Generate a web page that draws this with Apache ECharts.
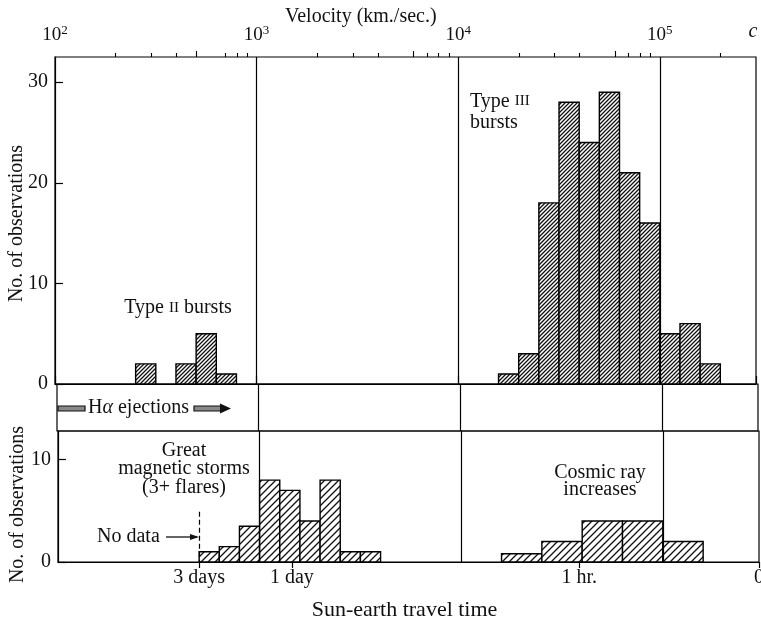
<!DOCTYPE html>
<html><head><meta charset="utf-8">
<script src="https://cdn.jsdelivr.net/npm/echarts@6/dist/echarts.min.js"></script>
<style>html,body{margin:0;padding:0;background:#fff}#c{width:761px;height:626px}</style>
</head><body><div id="c"></div>
<script>
// ---------- data (x values are log10 of velocity in km/s) ----------
const topMajorTicks = [2, 3, 4, 5, 5.477];
const topMajorLabels = ['10{e|2}', '10{e|3}', '10{e|4}', '10{e|5}', '{c|c}'];
const topMinorTicks = [2.301, 2.477, 2.602, 2.845, 2.903, 2.954,
                       3.301, 3.477, 3.602, 3.845, 3.903, 3.954,
                       4.301, 4.477, 4.602, 4.845, 4.903, 4.954, 5.301];
const topMidTicks = [2.699, 3.778, 4.778];
const decadeLines = [3, 4, 5];

const type2BinStart = [2.4, 2.6, 2.7, 2.8];
const type2Counts   = [2, 2, 5, 1];
const type3BinStart = [4.2, 4.3, 4.4, 4.5, 4.6, 4.7, 4.8, 4.9, 5.0, 5.1, 5.2];
const type3Counts   = [1, 3, 18, 28, 24, 29, 21, 16, 5, 6, 2];
const stormBinStart = [2.7, 2.8, 2.9, 3.0, 3.1, 3.2, 3.3, 3.4, 3.5];
const stormCounts   = [1, 1.5, 3.5, 8, 7, 4, 8, 1, 1];
const cosmicBinStart = [4.2, 4.4, 4.6, 4.8, 5.0];
const cosmicCounts   = [0.8, 2, 4, 4, 2];
const narrowBin = 0.1, wideBin = 0.2;

const upperYTicks = [0, 10, 20, 30];
const lowerYTicks = [0, 10];
const travelTickValues = [2.7, 3.16, 4.585, 5.477];
const travelTickLabels = ['3 days', '1 day', '1 hr.', '0'];
const noDataAt = 2.7, noDataTop = 4.9;

// ---------- helpers ----------
const FONT = 'Liberation Serif';
const INK = '#111';
function hatch(size, lw) {
  const c = document.createElement('canvas');
  c.width = c.height = size;
  const g = c.getContext('2d');
  g.fillStyle = '#fff'; g.fillRect(0, 0, size, size);
  g.strokeStyle = '#111'; g.lineWidth = lw;
  g.beginPath();
  g.moveTo(0, size); g.lineTo(size, 0);
  g.moveTo(-2, 2); g.lineTo(2, -2);
  g.moveTo(size - 2, size + 2); g.lineTo(size + 2, size - 2);
  g.stroke();
  return c;
}
const fineHatch = { image: hatch(4, 1.3), repeat: 'repeat' };
const wideHatch = { image: hatch(7, 1.3), repeat: 'repeat' };

function binData(starts, counts, w) { return starts.map((s, i) => [s, s + w, counts[i]]); }
function histSeries(name, xi, yi, data, pattern, extra) {
  return Object.assign({
    name, type: 'custom', xAxisIndex: xi, yAxisIndex: yi, data,
    encode: { x: [0, 1], y: 2 },
    renderItem: (params, api) => {
      const p0 = api.coord([api.value(0), 0]);
      const p1 = api.coord([api.value(1), api.value(2)]);
      return { type: 'rect',
        shape: { x: p0[0], y: p1[1], width: p1[0] - p0[0], height: p0[1] - p1[1] },
        style: { fill: pattern, stroke: '#000', lineWidth: 1.4 } };
    }
  }, extra || {});
}
const vLines = { silent: true, symbol: 'none', label: { show: false },
  lineStyle: { color: '#000', width: 1.2, type: 'solid' },
  data: decadeLines.map(v => ({ xAxis: v })) };

const labelStyle = { fontFamily: FONT, fontSize: 20, color: INK };
const gridBase = { show: true, borderColor: '#000', borderWidth: 1.2, backgroundColor: 'transparent', outerBoundsMode: 'none', containLabel: false };

const chart = echarts.init(document.getElementById('c'));
chart.setOption({
  backgroundColor: '#fff',
  animation: false,
  title: { text: 'Velocity (km./sec.)', left: 280, top: 2,
    textStyle: { fontFamily: FONT, fontSize: 20, fontWeight: 'normal', color: INK } },
  grid: [
    Object.assign({ left: 55, right: 5, top: 57, height: 327 }, gridBase),
    Object.assign({ left: 57, right: 3, top: 384, height: 47 }, gridBase),
    Object.assign({ left: 58, right: 2, top: 431, height: 131 }, gridBase)
  ],
  xAxis: [
    { gridIndex: 0, type: 'value', position: 'top', min: 2, max: 5.477,
      axisLine: { lineStyle: { color: '#000', width: 1.2 } },
      axisTick: { show: true, inside: false, length: 8, customValues: topMajorTicks, lineStyle: { color: '#000', width: 1.2 } },
      axisLabel: { show: true, margin: 11, customValues: topMajorTicks,
        formatter: v => topMajorLabels[topMajorTicks.findIndex(t => Math.abs(t - v) < 1e-6)] || '',
        fontFamily: FONT, fontSize: 19, color: INK,
        rich: { e: { fontFamily: FONT, fontSize: 13, color: INK, verticalAlign: 'top', padding: [0, 0, 9, 0] },
                c: { fontFamily: FONT, fontSize: 20, fontStyle: 'italic', color: INK, padding: [0, 6, 4, 0] } } },
      splitLine: { show: false } },
    { gridIndex: 0, type: 'value', position: 'top', min: 2, max: 5.477,
      axisLine: { show: false }, axisLabel: { show: false }, splitLine: { show: false },
      axisTick: { show: true, length: 4, customValues: topMinorTicks, lineStyle: { color: '#000', width: 1.1 } } },
    { gridIndex: 0, type: 'value', position: 'top', min: 2, max: 5.477,
      axisLine: { show: false }, axisLabel: { show: false }, splitLine: { show: false },
      axisTick: { show: true, length: 6, customValues: topMidTicks, lineStyle: { color: '#000', width: 1.1 } } },
    { gridIndex: 1, type: 'value', min: 2, max: 5.477, show: false },
    { gridIndex: 2, type: 'value', position: 'bottom', min: 2, max: 5.477,
      name: 'Sun-earth travel time', nameLocation: 'middle', nameGap: 37, nameMoveOverlap: false,
      nameTextStyle: { fontFamily: FONT, fontSize: 22, color: INK, padding: [0, 8, 0, 0] },
      axisLine: { lineStyle: { color: '#000', width: 1.2 } },
      axisTick: { show: true, inside: false, length: 6, customValues: travelTickValues, lineStyle: { color: '#000', width: 1.2 } },
      axisLabel: { show: true, margin: 6, customValues: travelTickValues,
        formatter: v => travelTickLabels[travelTickValues.findIndex(t => Math.abs(t - v) < 1e-6)] || '',
        ...labelStyle },
      splitLine: { show: false } }
  ],
  yAxis: [
    { gridIndex: 0, type: 'value', min: 0, max: 32.5,
      name: 'No. of observations', nameLocation: 'middle', nameGap: 28, nameMoveOverlap: false,
      nameTextStyle: { fontFamily: FONT, fontSize: 20, color: INK, padding: [0, 6, 0, 0] },
      axisLine: { show: true, lineStyle: { color: '#000', width: 1.2 } },
      axisTick: { show: true, inside: true, length: 8, customValues: upperYTicks, lineStyle: { color: '#000', width: 1.2 } },
      axisLabel: { show: true, margin: 7, customValues: upperYTicks, ...labelStyle },
      splitLine: { show: false } },
    { gridIndex: 1, type: 'value', min: 0, max: 1, show: false },
    { gridIndex: 2, type: 'value', min: 0, max: 12.8,
      name: 'No. of observations', nameLocation: 'middle', nameGap: 30, nameMoveOverlap: false,
      nameTextStyle: { fontFamily: FONT, fontSize: 20, color: INK, padding: [0, 16, 0, 0] },
      axisLine: { show: true, lineStyle: { color: '#000', width: 1.2 } },
      axisTick: { show: true, inside: true, length: 8, customValues: lowerYTicks, lineStyle: { color: '#000', width: 1.2 } },
      axisLabel: { show: true, margin: 7, customValues: lowerYTicks, ...labelStyle },
      splitLine: { show: false } }
  ],
  series: [
    histSeries('Type II bursts', 0, 0, binData(type2BinStart, type2Counts, narrowBin), fineHatch, { markLine: vLines }),
    histSeries('Type III bursts', 0, 0, binData(type3BinStart, type3Counts, narrowBin), fineHatch),
    { name: 'band', type: 'custom', xAxisIndex: 3, yAxisIndex: 1, data: [[2, 0]],
      renderItem: () => null, markLine: vLines },
    histSeries('Great magnetic storms', 4, 2, binData(stormBinStart, stormCounts, narrowBin), wideHatch, {
      markLine: { silent: true, symbol: 'none', label: { show: false },
        lineStyle: { color: '#000', width: 1.2, type: 'solid' },
        data: decadeLines.map(v => ({ xAxis: v })).concat([[
          { coord: [noDataAt, noDataTop], lineStyle: { type: [5, 3], width: 1.2, color: '#000' } },
          { coord: [noDataAt, 0] } ]]) } }),
    histSeries('Cosmic ray increases', 4, 2, binData(cosmicBinStart, cosmicCounts, wideBin), wideHatch)
  ],
  graphic: [
    { type: 'text', x: 178, y: 308, style: { text: 'Type {sc|II} bursts', align: 'center', verticalAlign: 'middle',
      font: '20px "Liberation Serif"', fill: INK, rich: { sc: { fontSize: 15, fontFamily: FONT, fill: INK } } } },
    { type: 'text', x: 470, y: 112, style: { text: 'Type {sc|III}\nbursts', align: 'left', verticalAlign: 'middle',
      font: '20px "Liberation Serif"', lineHeight: 21, fill: INK, rich: { sc: { fontSize: 15, fontFamily: FONT, fill: INK, lineHeight: 21 } } } },
    { type: 'text', x: 184, y: 469, style: { text: 'Great\nmagnetic storms\n(3+ flares)', align: 'center', verticalAlign: 'middle',
      font: '20px "Liberation Serif"', lineHeight: 18.5, fill: INK } },
    { type: 'text', x: 600, y: 481, style: { text: 'Cosmic ray\nincreases', align: 'center', verticalAlign: 'middle',
      font: '20px "Liberation Serif"', lineHeight: 17.5, fill: INK } },
    { type: 'text', x: 97, y: 537, style: { text: 'No data', align: 'left', verticalAlign: 'middle',
      font: '20px "Liberation Serif"', fill: INK } },
    { type: 'line', shape: { x1: 166, y1: 537, x2: 197, y2: 537 }, style: { stroke: INK, lineWidth: 1.3 } },
    { type: 'polygon', shape: { points: [[199, 537], [190, 534], [190, 540]] }, style: { fill: INK } },
    { type: 'text', x: 88, y: 408, style: { text: 'H{a|α} ejections', align: 'left', verticalAlign: 'middle',
      font: '20px "Liberation Serif"', fill: INK, rich: { a: { fontSize: 20, fontStyle: 'italic', fontFamily: FONT, fill: INK } } } },
    { type: 'rect', shape: { x: 58, y: 406, width: 27, height: 5 }, style: { fill: '#888', stroke: INK, lineWidth: 1.2 } },
    { type: 'rect', shape: { x: 194, y: 406, width: 27, height: 5 }, style: { fill: '#888', stroke: INK, lineWidth: 1.2 } },
    { type: 'polygon', shape: { points: [[231, 408.5], [220, 403.5], [220, 413.5]] }, style: { fill: INK } }
  ]
});
</script></body></html>
